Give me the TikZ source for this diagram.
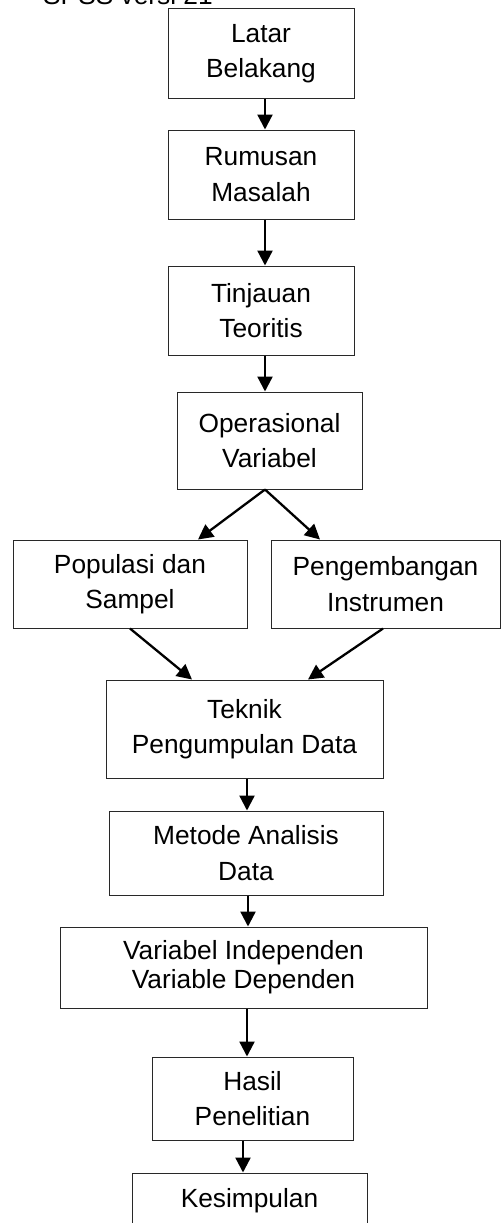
\documentclass[tikz,border=0pt]{standalone}
\usepackage{fontspec}
\setmainfont{Liberation Sans}
\usetikzlibrary{arrows.meta}
\definecolor{boxline}{RGB}{40,40,40}

\tikzset{
    box/.style={draw=boxline, line width=1pt, align=center, inner sep=0pt,
        font=\fontsize{26.3}{35.5}\selectfont},
    arr/.style={line width=2.3pt, -{Triangle[length=15pt,width=15pt]}}
}

\begin{document}
\begin{tikzpicture}[x=1pt, y=-1pt]
    \clip (0,0) rectangle (501,1223);
    \fill[white] (0,0) rectangle (501,1223);

    % Caption cut at the top
    \node[anchor=base west, inner sep=0pt, font=\fontsize{26.3}{30}\selectfont] (spss) at (43,5) {SPSS versi 21};

    % Main column
    \node[box, minimum width=186pt, minimum height=89pt] (latar) at (261,53.5) {Latar\\Belakang};
    \node[box, minimum width=186pt, minimum height=89pt] (rumusan) at (261,174.5) {Rumusan\\Masalah};
    \node[box, minimum width=186pt, minimum height=89pt] (tinjauan) at (261,310.5) {Tinjauan\\Teoritis};
    \node[box, minimum width=185pt, minimum height=97pt] (operasional) at (269.5,440.5) {Operasional\\Variabel};

    % Two branches
    \node[box, minimum width=234pt, minimum height=88pt] (populasi) at (130,584) {Populasi dan\\Sampel};
    \node[box, minimum width=229pt, minimum height=88pt] (instrumen) at (385.5,584) {Pengembangan\\Instrumen};

    % Lower column
    \node[box, minimum width=277pt, minimum height=98pt] (teknik) at (244.5,729) {Teknik\\Pengumpulan Data};
    \node[box, minimum width=274pt, minimum height=84pt] (metode) at (246,853) {Metode Analisis\\Data};
    \node[box, minimum width=367pt, minimum height=81pt, font=\fontsize{26.3}{29}\selectfont] (variabel) at (243.5,967.5) {Variabel Independen\\Variable Dependen};
    \node[box, minimum width=201pt, minimum height=83pt] (hasil) at (252.5,1098.5) {Hasil\\Penelitian};
    \node[box, minimum width=235pt, minimum height=56pt] (kesimpulan) at (249.5,1201) {Kesimpulan};

    % Draw arrows
    \draw[arr] ([xshift=4pt]latar.south) -- ([xshift=4pt]rumusan.north);
    \draw[arr] ([xshift=4pt]rumusan.south) -- ([xshift=4pt]tinjauan.north);
    \draw[arr] ([xshift=4pt]tinjauan.south) -- ([xshift=-4.5pt]operasional.north);
    \draw[arr] ([xshift=-4.5pt]operasional.south) -- ([xshift=68pt]populasi.north);
    \draw[arr] ([xshift=-4.5pt]operasional.south) -- ([xshift=-65.5pt]instrumen.north);
    \draw[arr] (populasi.south) -- ([xshift=-52.5pt]teknik.north);
    \draw[arr] ([xshift=-2.5pt]instrumen.south) -- ([xshift=63.5pt]teknik.north);
    \draw[arr] ([xshift=2.5pt]teknik.south) -- ([xshift=1pt]metode.north);
    \draw[arr] ([xshift=2pt]metode.south) -- ([xshift=4.5pt]variabel.north);
    \draw[arr] ([xshift=3.5pt]variabel.south) -- ([xshift=-5.5pt]hasil.north);
    \draw[arr] ([xshift=-9.5pt]hasil.south) -- ([xshift=-6.5pt]kesimpulan.north);
\end{tikzpicture}
\end{document}
